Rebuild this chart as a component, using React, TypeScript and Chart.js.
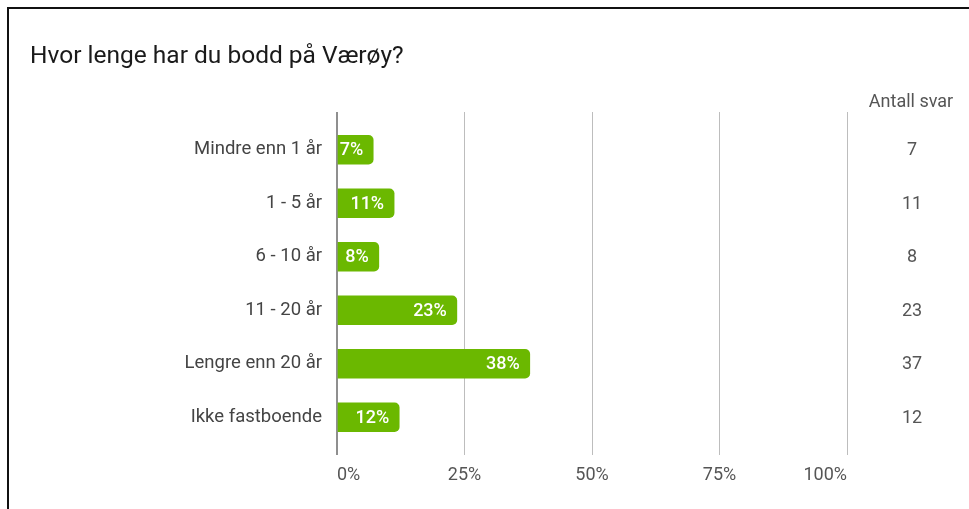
import React, { useEffect, useRef } from "react";
import { Chart, registerables } from "chart.js";

Chart.register(...registerables);

const titleText = "Hvor lenge har du bodd på Værøy?";
const categories = [
  "Mindre enn 1 år",
  "1 - 5 år",
  "6 - 10 år",
  "11 - 20 år",
  "Lengre enn 20 år",
  "Ikke fastboende",
];
const percentValues = [7.1, 11.2, 8.2, 23.5, 37.8, 12.2];
const percentLabels = ["7%", "11%", "8%", "23%", "38%", "12%"];
const answerCounts = [7, 11, 8, 23, 37, 12];
const countHeader = "Antall svar";
const xTickValues = [0, 25, 50, 75, 100];

const FONT = "Roboto";
const gridColor = (ctx: any) => (ctx.tick && ctx.tick.value === 0 ? "#8f8f8f" : "#bdbdbd");
const gridWidth = (ctx: any) => (ctx.tick && ctx.tick.value === 0 ? 2 : 1);
const setTicks = (scale: any) => {
  scale.ticks = xTickValues.map((v) => ({ value: v }));
};

const labelsPlugin = {
  id: "barLabels",
  afterDatasetsDraw(chart: any) {
    const ctx = chart.ctx;
    const meta = chart.getDatasetMeta(0);
    ctx.save();
    ctx.font = `500 18px ${FONT}`;
    ctx.fillStyle = "#ffffff";
    ctx.textAlign = "right";
    ctx.textBaseline = "middle";
    meta.data.forEach((bar: any, i: number) => {
      ctx.fillText(percentLabels[i], bar.x - 10, bar.y + 1);
    });
    ctx.restore();
  },
};

const countsPlugin = {
  id: "countsColumn",
  afterDraw(chart: any) {
    const ctx = chart.ctx;
    const yScale = chart.scales.y;
    const cx = chart.chartArea.right + 65;
    ctx.save();
    ctx.fillStyle = "#555555";
    ctx.textAlign = "center";
    ctx.textBaseline = "middle";
    ctx.font = `18px ${FONT}`;
    ctx.fillText(countHeader, cx - 1, 102);
    answerCounts.forEach((c, i) => {
      ctx.fillText(String(c), cx, yScale.getPixelForValue(i) + 1);
    });
    ctx.restore();
  },
};

export default function App() {
  const ref = useRef<HTMLCanvasElement>(null);
  useEffect(() => {
    if (!ref.current) return;
    const chart = new Chart(ref.current, {
      type: "bar",
      data: {
        labels: categories,
        datasets: [
          {
            data: percentValues,
            backgroundColor: "#6bb800",
            borderRadius: 5,
            borderSkipped: "start",
            barThickness: 29,
            xAxisID: "x",
            yAxisID: "y",
          },
        ],
      },
      options: {
        indexAxis: "y",
        animation: false,
        responsive: false,
        devicePixelRatio: 1,
        layout: { padding: { left: 30, right: 122, top: 0, bottom: 0 } },
        plugins: {
          legend: { display: false },
          tooltip: { enabled: false },
          title: {
            display: true,
            text: titleText,
            align: "start",
            color: "#1a1a1a",
            font: { family: FONT, size: 24.5, weight: "normal", lineHeight: 1.2 },
            padding: { top: 42, bottom: 40.6 },
          },
        },
        scales: {
          x: {
            type: "linear",
            position: "bottom",
            min: 0,
            max: 100,
            afterBuildTicks: setTicks,
            afterFit: (s: any) => {
              s.height = 65;
            },
            border: { display: false },
            grid: {
              color: gridColor,
              tickColor: gridColor,
              lineWidth: gridWidth,
              drawTicks: true,
              tickLength: 11,
            },
            ticks: {
              align: "inner",
              padding: 10,
              color: "#555555",
              font: { family: FONT, size: 18 },
              callback: (v: any) => `${v}%`,
            },
          },
          x2: {
            type: "linear",
            position: "top",
            min: 0,
            max: 100,
            afterBuildTicks: setTicks,
            afterFit: (s: any) => {
              s.height = 11;
            },
            border: { display: false },
            grid: {
              color: gridColor,
              tickColor: gridColor,
              lineWidth: gridWidth,
              drawOnChartArea: false,
              drawTicks: true,
              tickLength: 11,
            },
            ticks: { display: false },
          },
          y: {
            type: "category",
            position: "left",
            afterFit: (s: any) => {
              s.width = 307;
            },
            border: { display: false },
            grid: { display: false, drawTicks: false },
            ticks: {
              padding: 15,
              color: "#444444",
              font: { family: FONT, size: 18.5 },
            },
          },
        },
      },
      plugins: [labelsPlugin, countsPlugin],
    } as any);
    return () => chart.destroy();
  }, []);

  return (
    <div style={{ position: "fixed", left: 0, top: 0, width: 969, height: 509, background: "#fff", overflow: "hidden" }}>
      <canvas ref={ref} width={969} height={509} style={{ position: "absolute", left: 0, top: 0, width: 969, height: 509 }} />
      <div style={{ position: "absolute", left: 7, top: 7, right: 0, height: 2, background: "#111" }} />
      <div style={{ position: "absolute", left: 7, top: 7, bottom: 0, width: 2, background: "#111" }} />
    </div>
  );
}
